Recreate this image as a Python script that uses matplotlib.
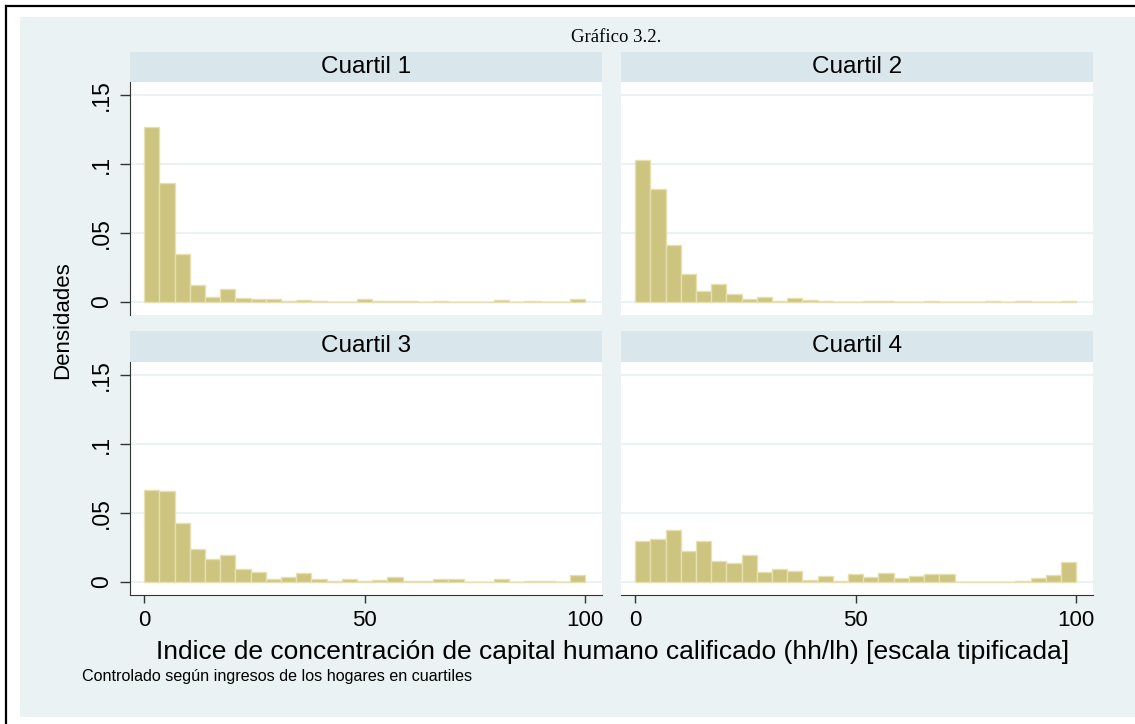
import numpy as np
import matplotlib
matplotlib.use("Agg")
import matplotlib.pyplot as plt
from matplotlib.patches import Rectangle
from matplotlib.lines import Line2D

# histogram densities per quartile (29 bins over 0-100)
q1 = [0.127, 0.0859, 0.0347, 0.0124, 0.0036, 0.0097, 0.0032, 0.0019, 0.0019, 0.0007,
      0.0012, 0.0005, 0.0, 0.0, 0.0022, 0.0005, 0.0005, 0.0005, 0.0, 0.0005,
      0.0, 0.0, 0.0, 0.0012, 0.0, 0.0005, 0.0, 0.0, 0.0022]
q2 = [0.1032, 0.0818, 0.0410, 0.0206, 0.0083, 0.0133, 0.0058, 0.0019, 0.0036, 0.0010,
      0.0029, 0.0017, 0.0007, 0.0, 0.0, 0.0005, 0.0005, 0.0, 0.0, 0.0005,
      0.0, 0.0, 0.0, 0.0005, 0.0, 0.0005, 0.0, 0.0, 0.0010]
q3 = [0.0667, 0.0659, 0.0428, 0.0237, 0.0169, 0.0198, 0.0097, 0.0075, 0.0022, 0.0039,
      0.0063, 0.0022, 0.0005, 0.0022, 0.0005, 0.0014, 0.0039, 0.0005, 0.0005, 0.0022,
      0.0022, 0.0, 0.0, 0.0022, 0.0, 0.0005, 0.0005, 0.0, 0.0051]
q4 = [0.0300, 0.0314, 0.0379, 0.0225, 0.0300, 0.0155, 0.0140, 0.0198, 0.0070, 0.0097,
      0.0080, 0.0012, 0.0043, 0.0005, 0.0060, 0.0039, 0.0063, 0.0029, 0.0043, 0.0058,
      0.0056, 0.0, 0.0, 0.0, 0.0, 0.0005, 0.0031, 0.0048, 0.0143]
panels = ["Cuartil 1", "Cuartil 2", "Cuartil 3", "Cuartil 4"]
yticks = [0, 0.05, 0.1, 0.15]
ytick_labels = ["0", ".05", ".1", ".15"]
xticks = [0, 50, 100]
edges = np.linspace(0, 100, 30)

W, H = 1135, 724
fig = plt.figure(figsize=(W / 100, H / 100), dpi=100)
fig.patch.set_facecolor("white")
plt.rcParams['font.family'] = ['Liberation Sans', 'DejaVu Sans']

bg = "#EAF2F3"
strip_col = "#D9E6EB"
bar_col = "#CCC47F"
bar_edge = "#E6E0B0"
axis_col = "#333333"


def px_axes(x0, y0, x1, y1):
    return fig.add_axes([x0 / W, 1 - y1 / H, (x1 - x0) / W, (y1 - y0) / H])


# outer frame and graph region
fig.add_artist(Rectangle((20 / W, 1 - 717 / H), (W - 20) / W, (717 - 17) / H,
                         transform=fig.transFigure, facecolor=bg, edgecolor="none", zorder=0))
fig.add_artist(Line2D([6 / W, 6 / W], [0, 1 - 6 / H], transform=fig.transFigure, color="black", lw=1.6))
fig.add_artist(Line2D([6 / W, 1], [1 - 6 / H, 1 - 6 / H], transform=fig.transFigure, color="black", lw=1.6))

cols = [(130, 602), (621, 1093)]
rows = [(52, 82, 315), (331, 362, 595)]
data = [q1, q2, q3, q4]

for i, heights in enumerate(data):
    r, c = divmod(i, 2)
    x0, x1 = cols[c]
    s0, p0, p1 = rows[r]

    st = px_axes(x0, s0, x1, p0)
    st.set_facecolor(strip_col)
    st.set_xticks([])
    st.set_yticks([])
    for sp in st.spines.values():
        sp.set_visible(False)
    st.text(0.5, 0.5, panels[i], ha="center", va="center", fontsize=17.5, transform=st.transAxes)

    ax = px_axes(x0, p0, x1, p1)
    ax.set_facecolor("white")
    ax.bar(edges[:-1], heights, width=np.diff(edges), align="edge",
           color=bar_col, edgecolor=bar_edge, linewidth=1, zorder=3)
    ax.set_xlim(-3.2, 103.8)
    ax.set_ylim(-0.0094, 0.1594)
    ax.set_yticks(yticks)
    ax.grid(axis="y", color=bg, lw=1.5, zorder=1)
    ax.set_xticks(xticks)
    for sp in ax.spines.values():
        sp.set_visible(False)

    if c == 0:
        ax.spines["left"].set_visible(True)
        ax.spines["left"].set_color(axis_col)
        ax.set_yticklabels(ytick_labels, rotation=90, va="center", fontsize=16.5)
        ax.tick_params(axis="y", length=7, width=1, color=axis_col, pad=5)
    else:
        ax.tick_params(axis="y", length=0, labelleft=False)

    if r == 1:
        ax.spines["bottom"].set_visible(True)
        ax.spines["bottom"].set_color(axis_col)
        ax.set_xticklabels([str(t) for t in xticks], fontsize=16)
        ax.tick_params(axis="x", length=6, width=1, color=axis_col, pad=5)
    else:
        ax.tick_params(axis="x", length=0, labelbottom=False)

fig.text(616 / W, 1 - 37 / H, "Gráfico 3.2.", ha="center", va="center",
         fontsize=13.5, family=["Liberation Serif", "DejaVu Serif"])
fig.text(613 / W, 1 - 652 / H,
         "Indice de concentración de capital humano calificado (hh/lh) [escala tipificada]",
         ha="center", va="center", fontsize=19)
fig.text(82 / W, 1 - 677 / H, "Controlado según ingresos de los hogares en cuartiles",
         ha="left", va="center", fontsize=11.6)
fig.text(63 / W, 1 - 320 / H, "Densidades", ha="center", va="center", rotation=90, fontsize=16)

fig.savefig("out.png", dpi=100, facecolor=fig.get_facecolor())
